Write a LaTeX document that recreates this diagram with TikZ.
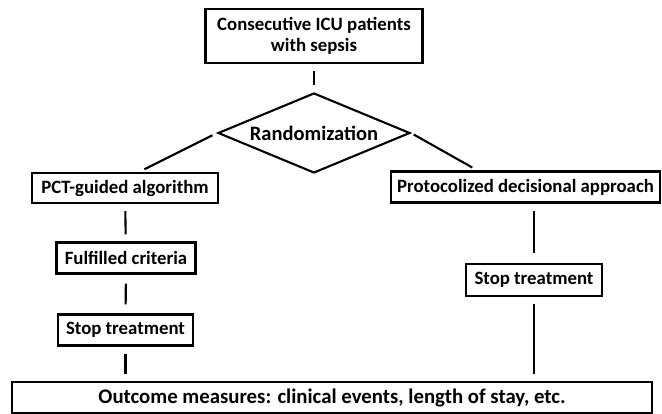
\documentclass[tikz,border=0pt]{standalone}
\usepackage{fontspec}
\setmainfont{Carlito}
\usetikzlibrary{shapes.geometric,calc}
\begin{document}
\begin{tikzpicture}[x=1pt,y=-1pt,
  box/.style={draw,line width=2.1pt,inner sep=0pt,align=center,font=\fontsize{18.8}{21.5}\selectfont\bfseries},
  conn/.style={line width=2.1pt,shorten <=7pt,shorten >=7pt}]
\useasboundingbox (0,0) rectangle (662,414);
\node[box,minimum width=217pt,minimum height=54pt] (top) at (314,36) {Consecutive ICU patients\\with sepsis};
\node[box,diamond,aspect=2.4,minimum width=192pt,minimum height=80pt,font=\fontsize{20.5}{22}\selectfont\bfseries] (rnd) at (314,133) {Randomization};
\node[box,minimum width=186pt,minimum height=30pt] (pct) at (125,188) {PCT-guided algorithm};
\node[box,minimum width=139pt,minimum height=31pt] (ful) at (126,258) {Fulfilled criteria};
\node[box,minimum width=135pt,minimum height=31pt] (stl) at (125.5,330) {Stop treatment};
\node[box,minimum width=269pt,minimum height=31pt] (pro) at (525.5,187) {Protocolized decisional approach};
\node[box,minimum width=136pt,minimum height=32pt] (str) at (534,280) {Stop treatment};
\node[box,minimum width=640pt,minimum height=31pt,font=\fontsize{20.8}{22}\selectfont\bfseries] (out) at (332,397.5) {Outcome measures: clinical events, length of stay, etc.};
\coordinate (pctin) at ($(pct.north)+(14,0)$);
\coordinate (proin) at ($(pro.north)+(-48,0)$);
\draw[conn] (top) -- (rnd);
\draw[conn,shorten <=5pt,shorten >=6pt] (rnd.west) -- (pctin);
\draw[conn,shorten <=3pt,shorten >=6pt] (rnd.east) -- (proin);
\draw[conn] (pct) -- (ful);
\draw[conn,shorten <=9pt,shorten >=9pt] (ful) -- (stl);
\draw[conn] (stl) -- (stl |- out.north);
\draw[conn,shorten >=10pt] (pro.south -| str) -- (str);
\draw[conn] (str) -- (str |- out.north);
\end{tikzpicture}
\end{document}
